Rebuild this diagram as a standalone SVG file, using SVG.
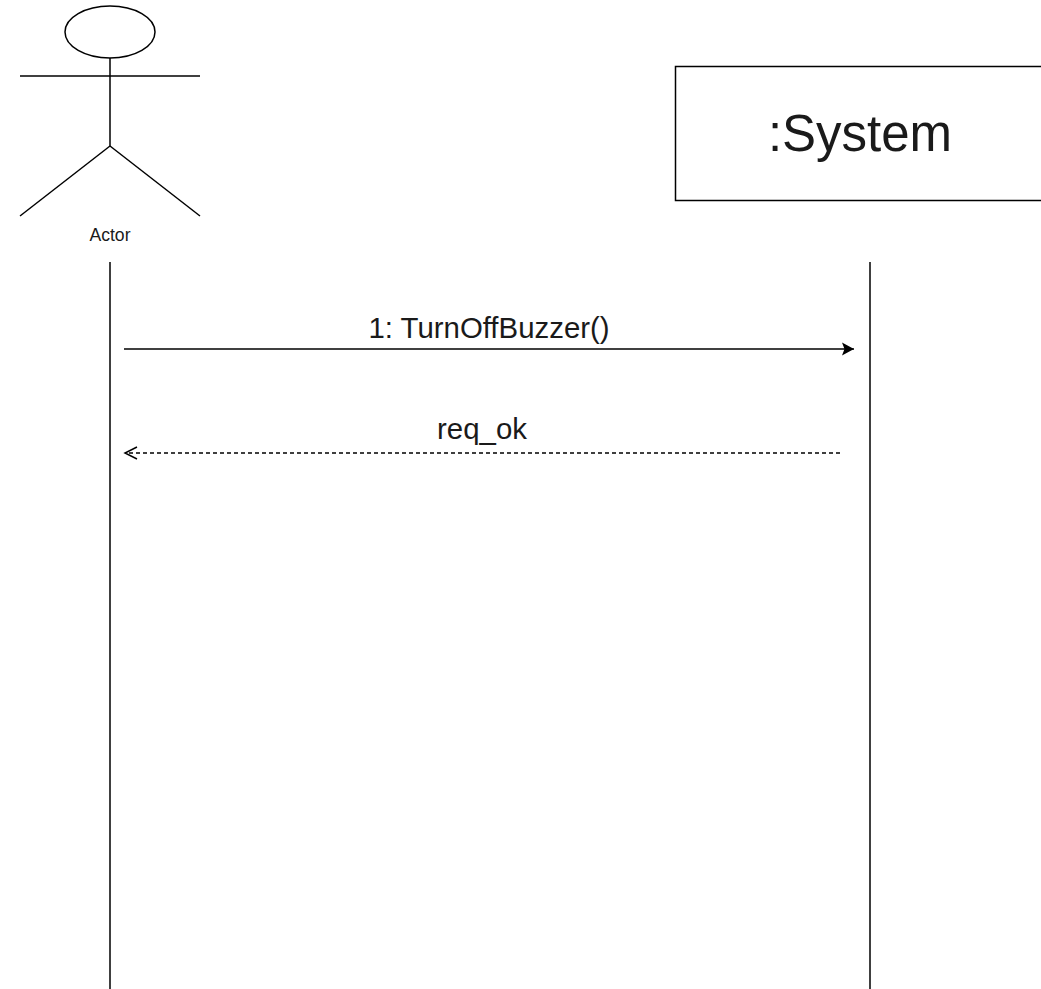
<svg xmlns="http://www.w3.org/2000/svg" width="1041" height="989" viewBox="0 0 1041 989">
<style>
.s{fill:none;stroke:#000;stroke-width:1.5}
.t{font-family:"Liberation Sans",Arial,sans-serif;fill:#1a1a1a;text-anchor:middle}
</style>
<defs>
<marker id="filled" markerWidth="13" markerHeight="14" refX="12" refY="7" orient="auto" markerUnits="userSpaceOnUse">
<path d="M0,0.5 L12,7 L0,13.5 L2.5,7 Z" fill="#000"/>
</marker>
<marker id="open" markerWidth="15" markerHeight="16" refX="13" refY="8" orient="auto" markerUnits="userSpaceOnUse">
<path d="M1,2 L13,8 L1,14" fill="none" stroke="#000" stroke-width="1.5"/>
</marker>
</defs>
<rect width="1041" height="989" fill="#fff"/>
<g id="actor">
<ellipse class="s" cx="110" cy="32" rx="45" ry="26"/>
<line class="s" x1="110" y1="58" x2="110" y2="146"/>
<line class="s" x1="20" y1="76" x2="200" y2="76"/>
<line class="s" x1="110" y1="146" x2="20" y2="216"/>
<line class="s" x1="110" y1="146" x2="200" y2="216"/>
<text class="t" x="110" y="241" font-size="17.6">Actor</text>
<line class="s" x1="110" y1="262" x2="110" y2="989"/>
</g>
<g id="system">
<rect class="s" x="675.5" y="66.5" width="370" height="134"/>
<text class="t" x="860" y="151" font-size="51">:System</text>
<line class="s" x1="870" y1="262" x2="870" y2="989"/>
</g>
<g id="connectors">
<line class="s" x1="124" y1="349" x2="854" y2="349" marker-end="url(#filled)"/>
<text class="t" x="489" y="338" font-size="29.4">1: TurnOffBuzzer()</text>
<line class="s" x1="840" y1="453" x2="125" y2="453" stroke-dasharray="4 3" marker-end="url(#open)"/>
<text class="t" x="482" y="439" font-size="29.4">req_ok</text>
</g>
</svg>
